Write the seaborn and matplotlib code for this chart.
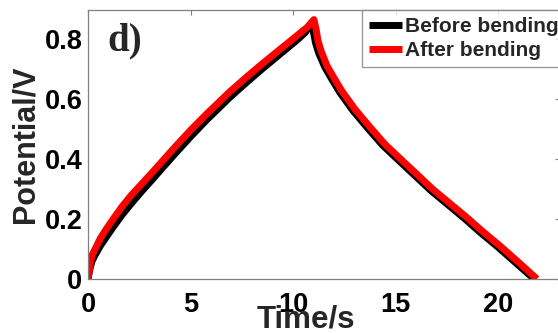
import numpy as np
import pandas as pd
import matplotlib
matplotlib.use("Agg")
import matplotlib.pyplot as plt
import seaborn as sns

# Galvanostatic charge/discharge curves of the device before and after bending
t_before = [0, 0.1, 0.2, 0.35, 0.6, 0.85, 1.2, 1.65, 2.1, 2.6, 3.1, 3.6, 4.2, 5.0,
            5.8, 6.9, 7.7, 8.5, 9.4, 10.2, 10.6, 10.9,
            11.0, 11.1, 11.25, 11.55, 11.88, 12.27, 12.9, 13.64, 14.37, 15.1,
            15.93, 16.71, 17.54, 18.37, 19.15, 19.98, 20.86, 21.76]
v_before = [0, 0.035, 0.06, 0.08, 0.11, 0.135, 0.17, 0.212, 0.25, 0.29, 0.328, 0.367,
            0.413, 0.473, 0.53, 0.603, 0.652, 0.699, 0.75, 0.795, 0.82, 0.852,
            0.82, 0.785, 0.752, 0.705, 0.666, 0.622, 0.562, 0.502, 0.445, 0.398,
            0.345, 0.295, 0.248, 0.201, 0.154, 0.107, 0.054, 0.0]

t_after = [0, 0.1, 0.2, 0.35, 0.6, 0.85, 1.2, 1.65, 2.1, 2.6, 3.1, 3.6, 4.2, 5.0,
           5.8, 6.9, 7.7, 8.5, 9.4, 10.2, 10.7, 11.02,
           11.12, 11.22, 11.37, 11.66, 12.0, 12.39, 13.02, 13.76, 14.49, 15.22,
           16.05, 16.83, 17.66, 18.49, 19.27, 20.10, 20.98, 21.90]
v_after = [0, 0.05, 0.08, 0.10, 0.135, 0.162, 0.197, 0.24, 0.278, 0.315, 0.352, 0.39,
           0.436, 0.495, 0.55, 0.622, 0.67, 0.716, 0.766, 0.81, 0.838, 0.863,
           0.833, 0.793, 0.759, 0.709, 0.669, 0.625, 0.565, 0.505, 0.448, 0.401,
           0.348, 0.298, 0.251, 0.204, 0.157, 0.110, 0.057, 0.0]

series_names = ["Before bending", "After bending"]
series_colors = ["#000000", "#ff0000"]
x_ticks = [0, 5, 10, 15, 20]
y_ticks = [0, 0.2, 0.4, 0.6, 0.8]

df = pd.concat([
    pd.DataFrame({"Time/s": t_before, "Potential/V": v_before, "Sample": series_names[0]}),
    pd.DataFrame({"Time/s": t_after, "Potential/V": v_after, "Sample": series_names[1]}),
], ignore_index=True)

sns.set_style("white")
plt.rcParams["font.family"] = ["Liberation Sans", "DejaVu Sans"]
plt.rcParams["font.weight"] = "bold"

W, H = 558, 333
fig = plt.figure(figsize=(W / 100, H / 100), dpi=100)
left, right, top, bottom = 88, 559.5, 10, 279
ax = fig.add_axes([left / W, (H - bottom) / H, (right - left) / W, (bottom - top) / H])

sns.lineplot(data=df, x="Time/s", y="Potential/V", hue="Sample",
             palette=dict(zip(series_names, series_colors)),
             estimator=None, sort=False, linewidth=5, ax=ax,
             solid_joinstyle="round", solid_capstyle="butt")

ax.set_xlim(0, 23)
ax.set_ylim(0, 0.895)
ax.set_xticks(x_ticks)
ax.set_yticks(y_ticks)
ax.set_xticklabels([f"{v:g}" for v in x_ticks])
ax.set_yticklabels([f"{v:g}" for v in y_ticks])

for s in ax.spines.values():
    s.set_visible(True)
    s.set_color("#808080")
    s.set_linewidth(0.9)

ax.tick_params(axis="both", which="major", direction="in", length=3.5, width=0.8,
               color="#808080", top=True, right=True, labelsize=19.5,
               labelcolor="black")
ax.tick_params(axis="x", pad=9.5)
ax.tick_params(axis="y", pad=4)
for lab in ax.get_xticklabels() + ax.get_yticklabels():
    lab.set_fontweight("bold")

ax.set_xlabel("Time/s", fontsize=22.5, fontweight="bold")
ax.set_ylabel("Potential/V", fontsize=22, fontweight="bold")
ax.xaxis.set_label_coords(0.462, -0.093)
ax.yaxis.set_label_coords(-0.10, 0.5)

ax.text(0.042, 0.851, "d)", transform=ax.transAxes, fontsize=28, fontweight="bold",
        family=["Liberation Serif", "DejaVu Serif"], va="baseline", ha="left")

leg = ax.legend(loc="upper right", bbox_to_anchor=(1.013, 1), borderaxespad=0,
                fancybox=False, frameon=True, fontsize=15, handlelength=1.6,
                handletextpad=0.15, labelspacing=0.27, borderpad=0.33)
leg.get_frame().set_edgecolor("#808080")
leg.get_frame().set_linewidth(1.0)
for text in leg.get_texts():
    text.set_fontweight("bold")
for line in leg.get_lines():
    line.set_linewidth(5)
    line.set_solid_capstyle("butt")

fig.savefig("out.png", dpi=100)
